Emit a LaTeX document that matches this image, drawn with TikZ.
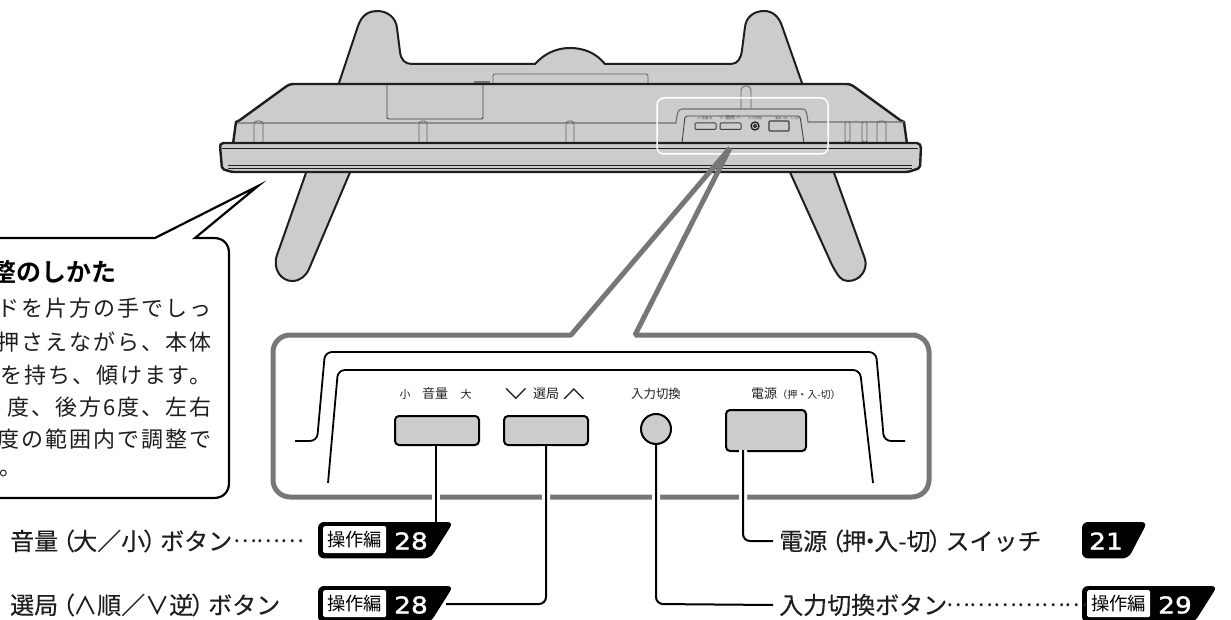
\documentclass[tikz,border=0pt]{standalone}
\usepackage{fontspec}
\usepackage{graphicx}
\setmainfont{Noto Sans CJK JP}
\newfontfamily\jpbody[LetterSpace=9]{Noto Sans CJK JP}
\newfontfamily\jplab[FakeBold=0.25]{Noto Sans CJK JP}
\newfontfamily\jpbold{Noto Sans CJK JP Bold}
\newfontfamily\numfont[FakeStretch=1.15,FakeBold=1.6]{DejaVu Sans}
\newcommand{\fsz}[1]{\fontsize{#1}{#1}\selectfont}
\newcommand{\lp}{\kern-7pt （\kern-2pt}
\newcommand{\rp}{\kern-2pt ）\kern-7pt}
\newcommand{\nak}{\kern-8pt ・\kern-8pt}
\definecolor{tvgray}{HTML}{CCCCCC}
\definecolor{framegray}{HTML}{777777}
\definecolor{ink}{HTML}{1E1E1E}
\tikzset{
  tvline/.style={draw=ink,line width=2pt,line join=round},
  thin line/.style={draw=ink!85,line width=0.9pt},
  faint/.style={draw=ink!70,line width=0.8pt},
  panelbtn/.style={draw=black,line width=2pt,fill=tvgray,rounded corners=4pt,inner sep=0pt},
  wire/.style={draw=black,line width=2pt,rounded corners=7pt,preaction={draw=white,line width=8pt}},
  lab/.style={inner sep=0pt,anchor=west,text=ink,font=\jplab\fsz{24},text height=21.1pt,text depth=2.9pt},
  dots/.style={inner sep=0pt,anchor=west,text=ink,font=\fsz{22.4}},
  body/.style={inner sep=0pt,anchor=east,text=ink,font=\jpbody\fsz{22},text height=19.4pt,text depth=2.6pt},
  tiny/.style={inner sep=0pt,text=ink,font=\fsz{11.5}},
  micro/.style={inner sep=0pt,text=ink!80,font=\fsz{3.4}},
  anchorbox/.style={inner sep=0pt,anchor=north west,minimum height=36pt},
  tag/.style={fill=white,inner sep=0pt,anchor=north west,minimum width=63pt,minimum height=27pt,rounded corners=1.5pt,font=\fsz{18.3},text=black},
  num/.style={inner sep=0pt,anchor=west,text=white,font=\numfont\fsz{23}},
}
\begin{document}
\begin{tikzpicture}[x=1pt,y=-1pt]
\useasboundingbox (0,0) rectangle (1231,620);
% ---- rear stand tops
\path[tvline,fill=tvgray] (338,86) -- (358,26) .. controls (362,14) and (370,11) .. (377,11)
  .. controls (388,11) and (396,18) .. (397,28) -- (400,52) .. controls (401,60) and (405,64) .. (412,64)
  -- (535,64) .. controls (545,53) and (557,48) .. (570,48) .. controls (584,48) and (596,53) .. (605,64)
  -- (731,64) .. controls (738,64) and (741,58) .. (742,50) -- (745,27) .. controls (746,17) and (754,11) .. (764,11)
  .. controls (773,11) and (779,17) .. (782,26) -- (803,86) -- cycle;
\draw[faint,rounded corners=2pt] (493,83) -- (493,74) -- (648,74) -- (648,83);
\draw[draw=ink!60,line width=1.5pt] (474,82) -- (490,82);
% ---- lower legs
\path[tvline,fill=tvgray] (307,170) -- (277,255) .. controls (272,270) and (282,281) .. (292,281)
  .. controls (300,281) and (306,276) .. (309,269) -- (351,170) -- cycle;
\path[tvline,fill=tvgray] (789,170) -- (832,265) .. controls (838,276) and (841,281) .. (848,281)
  .. controls (860,281) and (868,270) .. (865,259) -- (833,170) -- cycle;
% ---- body
\path[tvline,line width=2.4pt,fill=tvgray] (233,144) -- (236,122) -- (240,120) -- (284,88)
  .. controls (288,85) and (290,84) .. (294,84) -- (846,84) .. controls (850,84) and (852,85) .. (856,88)
  -- (900,120) -- (904,122) -- (907,144) -- cycle;
% details on the body
\draw[faint,draw=ink!65,line width=1.1pt] (237,123) -- (676,123) .. controls (677,116) and (677,109) .. (682,109)
  -- (803,109) .. controls (807,109) and (807,116) .. (808,122) -- (904,122);
\draw[thin line,rounded corners=2pt] (387,85) -- (387,119) -- (483,119) -- (483,85);
\foreach \xa/\xb in {254/263,419/427,566/574}{
  \draw[faint,rounded corners=3pt] (\xa,143) -- (\xa,121) -- (\xb,121) -- (\xb,143);
}
\draw[faint,rounded corners=3pt] (877,143) -- (877,121) -- (886,121) -- (886,143);
\draw[faint,rounded corners=2pt,fill=tvgray] (845,122) rectangle (850,142);
\draw[faint,rounded corners=2pt,fill=tvgray] (862,122) rectangle (867,142);
\draw[faint,rounded corners=4pt] (741,109) -- (741,86) -- (751,86) -- (751,109);
\draw[thin line,rounded corners=2pt] (682,143) -- (685,116) -- (800,116) -- (804,143);
% miniature panel
\draw[thin line,fill=tvgray,rounded corners=1pt,line width=1pt] (695,123) rectangle (716,129.5);
\draw[thin line,fill=tvgray,rounded corners=1pt,line width=1pt] (720,123) rectangle (741,129.5);
\draw[thin line,fill=tvgray,rounded corners=1pt,line width=1.2pt] (769,121) rectangle (789,131);
\draw[draw=ink,line width=1.3pt] (755,126) circle (4);
\draw[draw=ink,line width=1pt] (755,126) circle (1.6);
\node[micro] (m1) at (705,118.5) {小 音量 大};
\node[micro,font=\fsz{5}] (m2) at (730,118) {∨ 選局 ∧};
\node[micro] (m3) at (755,118.5) {入力切換};
\node[micro,font=\fsz{3}] (m4) at (788,118.5) {電源（押・入-切）};
% ---- bezel
\path[tvline,line width=2.4pt,fill=tvgray,rounded corners=2pt] (221,143) -- (919,143) -- (921,146) -- (920,168) -- (908,172)
  -- (232,172) -- (222,169) -- (220,146) -- cycle;
\draw[draw=ink,line width=1pt] (222,149) -- (918,149);
\draw[draw=ink,line width=0.8pt] (228,165.5) -- (912,165.5);
\draw[draw=ink,line width=0.8pt] (228,168) -- (912,168);
% white highlight
\draw[draw=white,line width=1.5pt,rounded corners=7pt] (657,98) rectangle (828,154);
% ---- detail frame with pointer
\draw[draw=framegray,line width=5pt,line join=bevel]
  (730,148) -- (571,335) -- (300,335) [rounded corners=17pt] -- (273,335) -- (273,497) -- (929,497) -- (929,335) -- (900,335) [sharp corners] -- (635,335) -- cycle;
% panel drawing
\draw[draw=black,line width=1.8pt,rounded corners=7pt] (295,441) -- (317,441) -- (325,352) -- (876,352) -- (884,441) -- (905,441);
\draw[draw=black,line width=1.8pt,rounded corners=7pt] (328,483) -- (338,370) -- (860,370) -- (873,483);
\node[tiny,font=\fsz{11}] (t1a) at (405,394) {小};
\node[tiny,font=\fsz{13}] (t1b) at (435,394) {音量};
\node[tiny,font=\fsz{11}] (t1c) at (466,394) {大};
\node[tiny,font=\fsz{13}] (t2b) at (546,394) {選局};
\node[tiny,font=\fsz{23}] (t2a) at (516,394) {\scalebox{1.18}[0.62]{∨}};
\node[tiny,font=\fsz{23}] (t2c) at (574,394) {\scalebox{1.18}[0.62]{∧}};
\node[tiny,font=\fsz{12.4}] (t3) at (656,394) {入力切換};
\node[tiny,font=\fsz{13}] (t4a) at (764,394) {電源};
\node[tiny,font=\fsz{10}] (t4b) at (809,395) {（押・入-切）};
\node[panelbtn,anchor=north west,minimum width=84pt,minimum height=29pt] (vol) at (394,415) {};
\node[panelbtn,anchor=north west,minimum width=84pt,minimum height=29pt] (chan) at (503,415) {};
\node[panelbtn,circle,minimum size=30pt] (input) at (656,429) {};
\node[panelbtn,anchor=north west,minimum width=80pt,minimum height=41pt] (power) at (725,409) {};
% ---- badge anchors (invisible), then wires, then badges
\node[anchorbox,minimum width=135pt] (ba) at (318,522) {};
\node[anchorbox,minimum width=135pt] (bb) at (318,586) {};
\node[anchorbox,minimum width=65pt] (bc) at (1082,522) {};
\node[anchorbox,minimum width=135pt] (bd) at (1082,586) {};
\node[lab] (lpower) at (779,541) {電源\lp 押\nak 入-切\rp スイッチ};
\node[lab] (linput) at (779,605) {入力切換ボタン};
\draw[wire] (vol.south -| 436,0) -- (436,522);
\draw[wire] (chan.south) -- (546,604) -- (446,604);
\draw[wire] (input.south) -- (656,604) -- ([xshift=-6pt]linput.west);
\draw[wire] (743,450) -- (743,541) -- ([xshift=-6pt]lpower.west);
\foreach \n in {ba,bb,bd}{
  \fill[black,rounded corners=6pt] (\n.north west) -- (\n.north east) -- ([xshift=-23pt]\n.south east) -- (\n.south west) -- cycle;
}
\fill[black,rounded corners=6pt] (bc.north west) -- (bc.north east) -- ([xshift=-19pt]bc.south east) -- (bc.south west) -- cycle;
\node[tag] (ta) at (323,526) {操作編};
\node[num] (na) at (394,541) {28};
\node[tag] (tb) at (323,590) {操作編};
\node[num] (nb) at (394,605) {28};
\node[num] (nc) at (1089,541) {21};
\node[tag] (td) at (1087,590) {操作編};
\node[num] (nd) at (1158,605) {29};
% ---- labels
\node[lab] (lvol) at (10,541) {音量\lp 大／小\rp ボタン};
\node[dots] (dvol) at (233,541) {………};
\node[lab] (lchan) at (10,605) {選局\lp ∧順／∨逆\rp ボタン};
\node[dots] (dinp) at (946,605) {………………};
% ---- speech bubble
\path[draw=black,fill=white,line width=2.2pt,line join=miter]
  (-10,238) -- (155,238) -- (258,186) -- (195,238) -- (214,238)
  .. controls (223,238) and (229,244) .. (229,253) -- (229,483)
  .. controls (229,492) and (223,498) .. (214,498) -- (-10,498) -- cycle;
\node[inner sep=0pt,anchor=east,text=black,font=\jpbold\fsz{25},text height=22pt,text depth=3pt] (bh) at (117,272) {整のしかた};
\node[body] (b1) at (212,308) {ドを片方の手でしっ};
\node[body] (b2) at (212,342) {押さえながら、本体};
\node[body] (b3) at (212,375) {を持ち、傾けます。};
\node[body] (b4) at (212,407) {度、後方6度、左右};
\node[body] (b5) at (212,439) {度の範囲内で調整で};
\node[body,anchor=west] (b6) at (-1,467) {。};
\end{tikzpicture}
\end{document}
